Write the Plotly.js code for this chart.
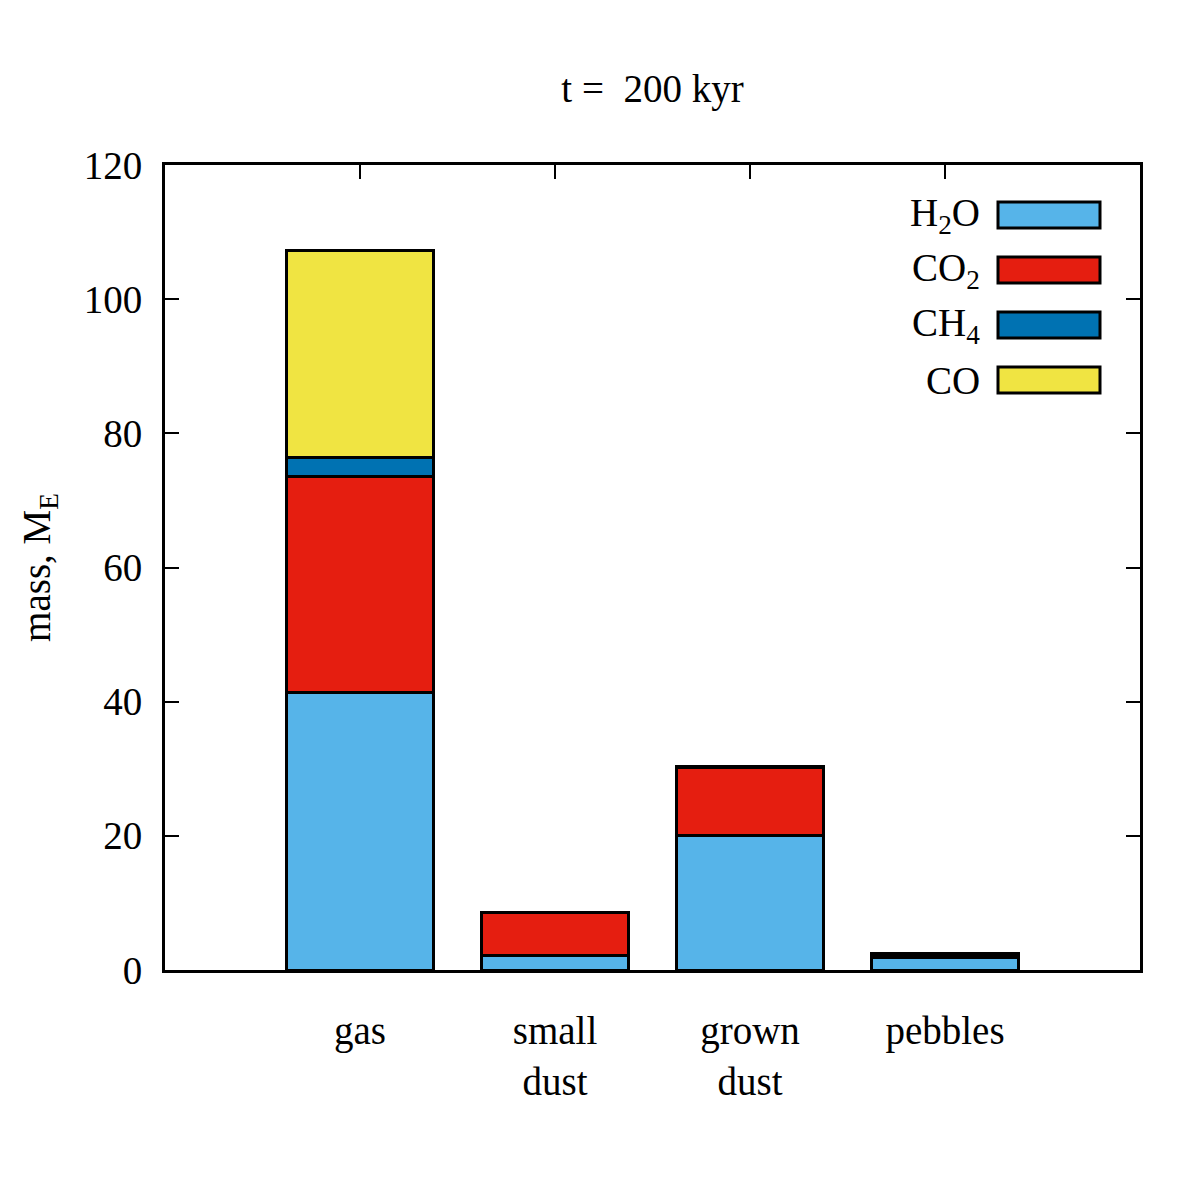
<!DOCTYPE html>
<html>
<head>
<meta charset="utf-8">
<script src="https://cdn.plot.ly/plotly-3.0.1.min.js"></script>
<style>
  body { margin: 0; background: #fff; }
  #chart { width: 1200px; height: 1200px; }
</style>
</head>
<body>
<div id="chart"></div>
<script>
// masses in Earth masses
var categories = ["gas", "small dust", "grown dust", "pebbles"];
var tickLabels = ["gas", "small<br>dust", "grown<br>dust", "pebbles"];
var h2o = [41.4, 2.2, 20.0, 1.85];
var co2 = [32.1, 6.3, 10.2, 0.45];
var ch4 = [2.9, 0.05, 0.1, 0.05];
var co = [30.9, 0.05, 0.1, 0.1];

var species = ["H<sub>2</sub>O", "CO<sub>2</sub>", "CH<sub>4</sub>", "CO"];
var colors = ["#56B4E9", "#E51E10", "#0072B2", "#F0E442"];
var values = [h2o, co2, ch4, co];

var font = "Liberation Serif, Times New Roman, serif";
var fs = 39;

var data = [];
for (let i = 0; i < values.length; i++){
    data.push({
        type: "bar",
        x: categories,
        y: values[i],
        name: species[i],
        width: 0.75,
        marker: {color: colors[i], line: {color: "#000", width: 3}},
        showlegend: false,
        hoverinfo: "skip"
    });
}

// gnuplot style key: label on the left, box on the right
var shapes = [];
var annotations = [];
var rowY = [215, 270, 325, 380];
for (let i = 0; i < species.length; i++){
    var yc = (970 - rowY[i]) / 805;
    shapes.push({
        type: "rect", xref: "paper", yref: "paper",
        x0: (998 - 165) / 975, x1: (1100 - 165) / 975,
        y0: yc - 13 / 805, y1: yc + 13 / 805,
        fillcolor: colors[i], line: {color: "#000", width: 3}
    });
    annotations.push({
        xref: "paper", yref: "paper",
        x: (982 - 165) / 975, y: yc,
        xanchor: "right", yanchor: "middle",
        text: species[i], showarrow: false,
        font: {family: font, size: fs, color: "#000"}
    });
}

var layout = {
    width: 1200,
    height: 1200,
    paper_bgcolor: "#fff",
    plot_bgcolor: "#fff",
    margin: {l: 165, r: 60, t: 165, b: 230},
    barmode: "stack",
    font: {family: font, size: fs, color: "#000"},
    title: {text: "t =  200 kyr", xref: "paper", x: 0.5, xanchor: "center",
            y: 1 - 88 / 1200, yanchor: "middle",
            font: {family: font, size: fs, color: "#000"}},
    xaxis: {
        type: "category",
        range: [-1, 4],
        tickvals: categories,
        ticktext: tickLabels,
        ticks: "inside", ticklen: 14, tickwidth: 2, tickcolor: "#000",
        mirror: "allticks",
        layer: "below traces",
        showline: true, linecolor: "#000", linewidth: 3,
        showgrid: false, zeroline: false,
        ticklabelstandoff: 24,
        tickfont: {family: font, size: fs, color: "#000"}
    },
    yaxis: {
        range: [0, 120],
        tickvals: [0, 20, 40, 60, 80, 100, 120],
        ticks: "inside", ticklen: 14, tickwidth: 2, tickcolor: "#000",
        mirror: "allticks",
        showline: true, linecolor: "#000", linewidth: 3,
        showgrid: false, zeroline: false,
        ticklabelstandoff: 12,
        tickfont: {family: font, size: fs, color: "#000"},
        title: {text: "mass, M<sub>E</sub>", standoff: 22,
                font: {family: font, size: fs, color: "#000"}}
    },
    shapes: shapes,
    annotations: annotations
};

Plotly.newPlot("chart", data, layout, {displayModeBar: false, staticPlot: true});
</script>
</body>
</html>
